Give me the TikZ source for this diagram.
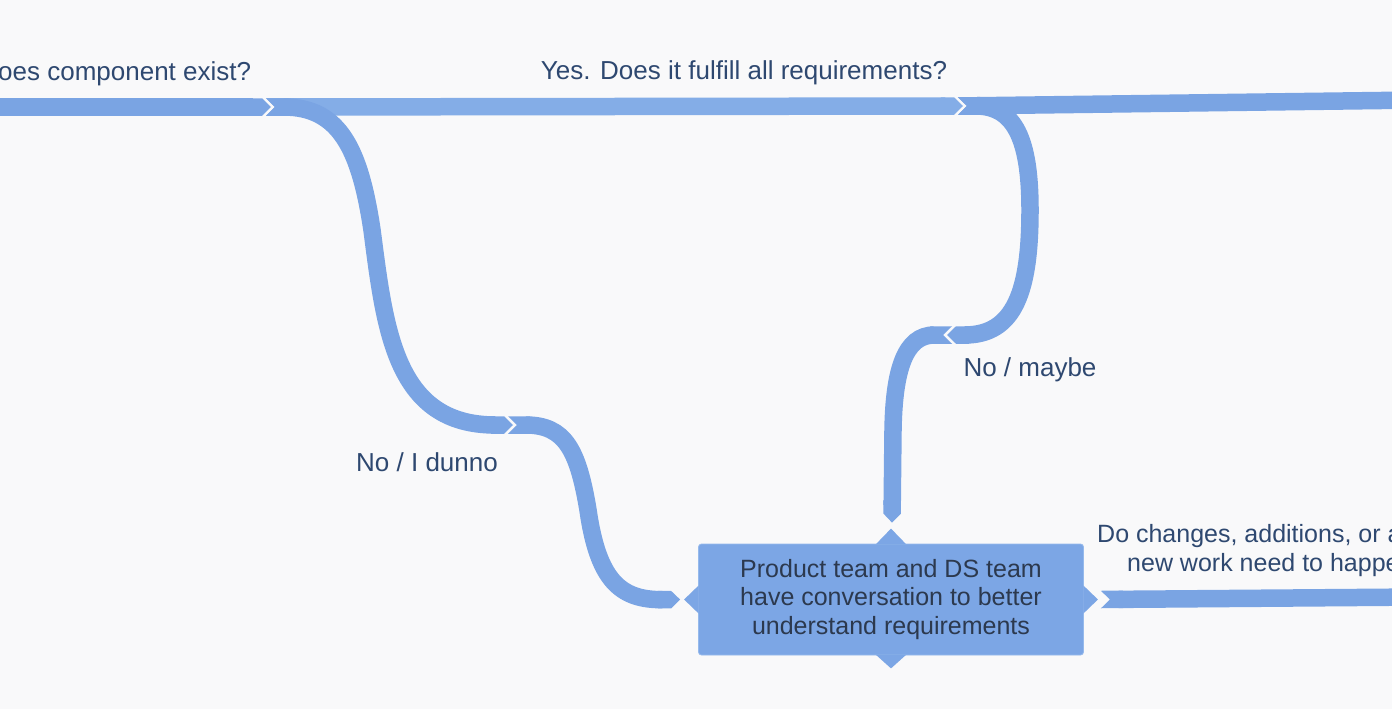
\documentclass[tikz,border=0pt]{standalone}
\usepackage{fontspec}
\setmainfont{Liberation Sans}
\usetikzlibrary{arrows.meta, positioning, calc}
\definecolor{bgwhite}{RGB}{249, 249, 250}
\definecolor{bandblue}{RGB}{122, 164, 227}
\definecolor{bandlight}{RGB}{132, 173, 231}
\definecolor{boxblue}{RGB}{124, 166, 229}
\definecolor{boxedge}{RGB}{150, 186, 236}
\definecolor{labelnavy}{RGB}{46, 72, 112}
\definecolor{boxtext}{RGB}{44, 57, 78}

\begin{document}
\begin{tikzpicture}[
    x=1pt, y=-1pt,
    band/.style={
        draw=#1, line width=17.5pt,
        arrows={{Triangle Cap[reversed,length=9pt]}-{Triangle Cap[length=9pt]}}
    },
    band/.default=bandblue,
    label/.style={
        font=\fontsize{26}{30}\selectfont, text=labelnavy, inner sep=0pt
    },
    convo/.style={
        rectangle, rounded corners=3pt, draw=boxedge, fill=boxblue,
        minimum width=385pt, minimum height=111pt, align=center,
        font=\fontsize{25}{28.5}\selectfont, text=boxtext, line width=0.8pt
    }
]

% Canvas
\clip (0,0) rectangle (1392,709);
\fill[bgwhite] (0,0) rectangle (1392,709);

% Decision points (chevrons)
\coordinate (exist)  at (266,107);
\coordinate (fulfil) at (958,106);
\coordinate (dunno)  at (508,425);
\coordinate (maybe)  at (952,335);

% Conversation box with its four points
\node[convo] (talk) at (891,599.5) {Product team and DS team\\have conversation to better\\understand requirements};
\fill[boxblue] ($(talk.north)+(-15,0.5)$) -- ++(15,-15.5) -- ++(15,15.5) -- cycle;
\fill[boxblue] ($(talk.south)+(-15,-0.5)$) -- ++(15,13.5) -- ++(15,-13.5) -- cycle;
\fill[boxblue] ($(talk.west)+(0.5,-14)$) -- ++(-14.5,14) -- ++(14.5,14) -- cycle;
\fill[boxblue] ($(talk.east)+(-0.5,-14)$) -- ++(14.5,14) -- ++(-14.5,14) -- cycle;

% Main line
\draw[band] (-30,107) -- ($(exist)+(5,0)$);
\draw[band=bandlight] (exist) -- ($(fulfil)+(5,0)$);
\draw[band] (fulfil) -- (1420,100);

% No / I dunno branch
\draw[band] (exist) .. controls (340,107) and (360,150) .. (372,230)
    .. controls (385,330) and (395,425) .. ($(dunno)+(5,0)$);
\draw[band] (dunno) .. controls (565,425) and (578,450) .. (588,510)
    .. controls (598,580) and (620,600) .. ($(talk.west)+(-18,0)$);

% No / maybe branch
\draw[band] (fulfil) .. controls (1015,106) and (1030,140) .. (1030,210)
    .. controls (1030,290) and (1015,335) .. ($(maybe)+(-5,0)$);
\draw[band] (maybe) .. controls (905,335) and (894,370) .. (893,430)
    -- ($(talk.north)+(1,-21)$);

% Out of the box
\draw[band] ($(talk.east)+(17,0)$) -- (1420,597);

% Labels
\node[label, anchor=west] (qexist) at (-2,74) {oes component exist?};
\node[label] (qfulfil) at (744,73) {Yes. Does it fulfill all requirements?};
\node[label] (ldunno) at (427,462) {No / I dunno};
\node[label] (lmaybe) at (1030,370) {No / maybe};
\node[label, font=\fontsize{25}{30}\selectfont, anchor=west] (qchange) at (1097,536) {Do changes, additions, or a};
\node[label, font=\fontsize{25}{30}\selectfont, anchor=west] (qchange2) at (1127,565) {new work need to happe};

\end{tikzpicture}
\end{document}
